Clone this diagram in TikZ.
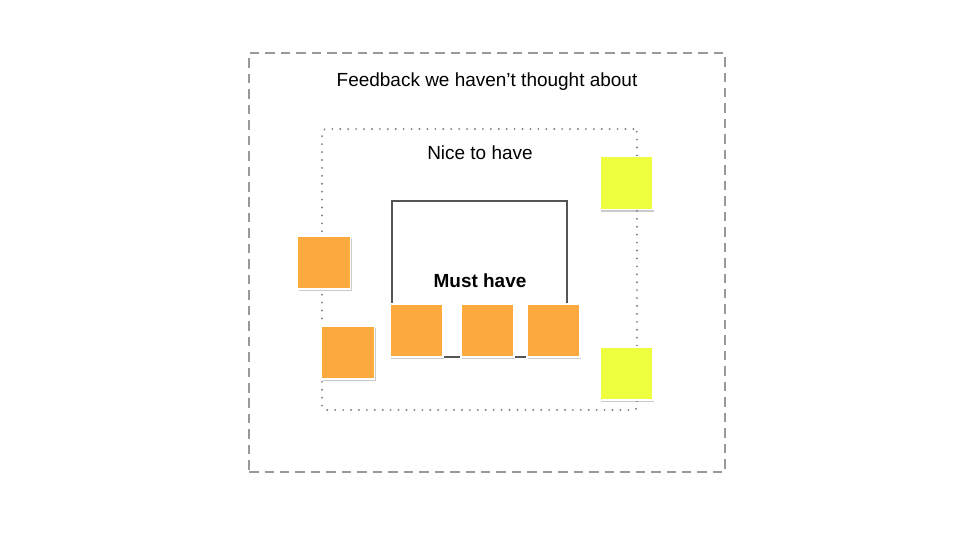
\documentclass[tikz,border=0pt]{standalone}
\usepackage{fontspec}
\setmainfont{Liberation Sans}
\usepackage{xcolor}
\usetikzlibrary{positioning,shadows}
\definecolor{notec}{HTML}{FCA940}
\definecolor{idlec}{HTML}{EDFF3E}
\definecolor{linec}{HTML}{555555}
\definecolor{dashc}{HTML}{999999}

\begin{document}
\begin{tikzpicture}[
    x=0.02cm, y=-0.02cm,
    font=\fontsize{10.8}{12}\selectfont,
    zone/.style={draw, minimum width=#1, inner sep=0pt},
    sticky/.style={
      draw=white, line width=1pt, minimum size=1.06cm, inner sep=0pt,
      drop shadow={shadow xshift=0.6pt, shadow yshift=-1.2pt,
        opacity=0.35, fill=black!60}},
    lbl/.style={align=center, inner sep=1pt}
  ]
  \useasboundingbox (0,0) rectangle (960,540);

  % --- outer zone
  \node[zone=9.52cm, minimum height=8.38cm, draw=dashc, line width=1.2pt,
    dash pattern=on 5.4pt off 3.4pt] (unknown) at (487,262.5) {};
  \node[lbl] (unknownlbl) at (487,82) {Feedback we haven’t thought about};

  % --- nice to have
  \node[zone=6.3cm, minimum height=5.62cm, draw=linec!75, line width=1.2pt,
    dash pattern=on 0.01pt off 4.5pt, line cap=round, rounded corners=2pt]
    (nice) at (479.5,269.5) {};
  \node[lbl] (nicelbl) at (480,153) {Nice to have};

  % --- must have
  \node[zone=3.5cm, minimum height=3.12cm, draw=linec, line width=1.4pt]
    (must) at (479.5,279) {};
  \node[lbl, font=\fontsize{10.8}{12}\selectfont\bfseries] (mustlbl) at (480,281) {Must have};

  % --- notes
  \node[sticky, fill=notec] (o1) at (324,262.5) {};
  \node[sticky, fill=notec] (o2) at (348,352.5) {};
  \node[sticky, fill=notec] (o3) at (416.5,330.5) {};
  \node[sticky, fill=notec, right=0.32cm of o3] (o4) {};
  \node[sticky, fill=notec] (o5) at (553.5,330.5) {};
  \node[sticky, fill=idlec] (y1) at (626.5,183) {};
  \node[sticky, fill=idlec] (y2) at (626.5,373.5) {};

\end{tikzpicture}
\end{document}
